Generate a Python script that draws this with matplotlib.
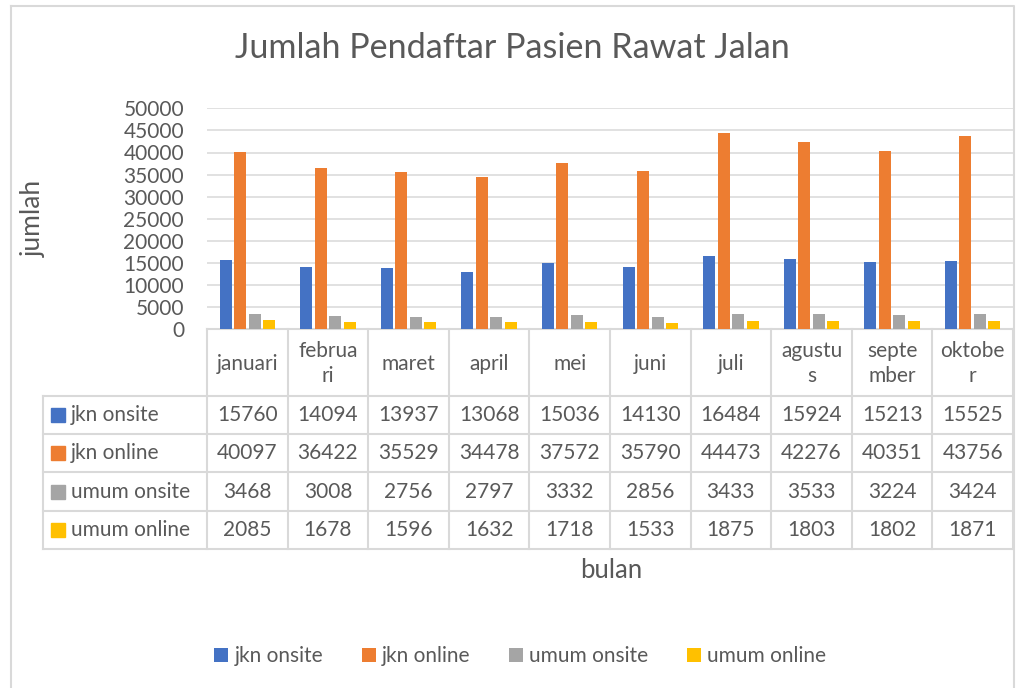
import matplotlib.pyplot as plt
import numpy as np

plt.rcParams['font.family'] = ['Lato', 'DejaVu Sans']

months = ["januari", "februari", "maret", "april", "mei", "juni",
          "juli", "agustus", "september", "oktober"]
# the header cells wrap the long month names like excel does
month_heads = ["januari", "februa\nri", "maret", "april", "mei", "juni",
               "juli", "agustu\ns", "septe\nmber", "oktobe\nr"]
series = ["jkn onsite", "jkn online", "umum onsite", "umum online"]
jkn_onsite = [15760, 14094, 13937, 13068, 15036, 14130, 16484, 15924, 15213, 15525]
jkn_online = [40097, 36422, 35529, 34478, 37572, 35790, 44473, 42276, 40351, 43756]
umum_onsite = [3468, 3008, 2756, 2797, 3332, 2856, 3433, 3533, 3224, 3424]
umum_online = [2085, 1678, 1596, 1632, 1718, 1533, 1875, 1803, 1802, 1871]
values = [jkn_onsite, jkn_online, umum_onsite, umum_online]
colors = ["#4472C4", "#ED7D31", "#A5A5A5", "#FFC000"]
yticks = list(range(0, 50001, 5000))

W, H = 1016, 688
txt = "#595959"
grid = "#D9D9D9"
fs = 15

fig = plt.figure(figsize=(W / 100, H / 100), dpi=100)

# pixel-space overlay for the frame and the data table
ov = fig.add_axes([0, 0, 1, 1])
ov.set_xlim(0, W)
ov.set_ylim(H, 0)
ov.axis("off")

left, right, top, bottom = 207, 1013, 108.3, 329.3
ax = fig.add_axes([left / W, 1 - bottom / H, (right - left) / W, (bottom - top) / H])
ax.set_facecolor("none")

n = len(months)
x = np.arange(n) + 0.5
step = 0.18
bw = 0.149
handles = []
for k, (vals, c) in enumerate(zip(values, colors)):
    b = ax.bar(x + (k - 1.5) * step, vals, width=bw, color=c, zorder=3, label=series[k])
    handles.append(b)

ax.set_xlim(0, n)
ax.set_ylim(0, 50000)
ax.set_yticks(yticks)
ax.set_yticklabels([str(t) for t in yticks], fontsize=fs, color=txt)
ax.set_xticks([])
ax.tick_params(axis="y", length=0, pad=16.5)
for s in ax.spines.values():
    s.set_visible(False)
ax.grid(axis="y", color=grid, linewidth=1.1, zorder=0)

# chart frame
ov.plot([11, 1013.5, 1013.5], [6, 6, H + 5], color=grid, lw=1.5)
ov.plot([11, 11], [6, H + 5], color=grid, lw=1.5)

ov.text(512, 48, "Jumlah Pendaftar Pasien Rawat Jalan", fontsize=24.6,
        color=txt, ha="center", va="center")
ov.text(33, 218, "jumlah", fontsize=19, color=txt, rotation=90, ha="center", va="center")
ov.text(611, 570, "bulan", fontsize=18.5, color=txt, ha="center", va="center")

# data table
colw = (right - left) / n
hdr_bot = 396
row_h = 38.2
tab_left = 43
rows_y = [hdr_bot + i * row_h for i in range(len(series) + 1)]
lw = 1.5
# vertical lines of the month columns
for i in range(n + 1):
    xx = left + i * colw
    ov.plot([xx, xx], [bottom, rows_y[-1]], color=grid, lw=lw, zorder=1)
ov.plot([left, right], [bottom, bottom], color=grid, lw=lw, zorder=1)
for yy in rows_y:
    ov.plot([tab_left, right], [yy, yy], color=grid, lw=lw, zorder=1)
ov.plot([tab_left, tab_left], [hdr_bot, rows_y[-1]], color=grid, lw=lw, zorder=1)

for i, m in enumerate(month_heads):
    ov.text(left + (i + 0.5) * colw, (bottom + hdr_bot) / 2 + 1, m, fontsize=fs,
            color=txt, ha="center", va="center", linespacing=1.3)

for r, (name, vals, c) in enumerate(zip(series, values, colors)):
    yc = rows_y[r] + row_h / 2
    ov.add_patch(plt.Rectangle((51, yc - 7), 14, 14, color=c))
    ov.text(71, yc, name, fontsize=fs, color=txt, ha="left", va="center")
    for i, v in enumerate(vals):
        ov.text(left + (i + 0.5) * colw, yc, str(v), fontsize=fs, color=txt,
                ha="center", va="center")

fig.legend(handles=handles, labels=series, loc="center", bbox_to_anchor=(0.512, 1 - 656 / H),
           ncol=4, frameon=False, fontsize=fs, labelcolor=txt, handlelength=0.67,
           handleheight=0.67, handletextpad=0.3, columnspacing=1.85)

fig.savefig("out.png", dpi=100)
